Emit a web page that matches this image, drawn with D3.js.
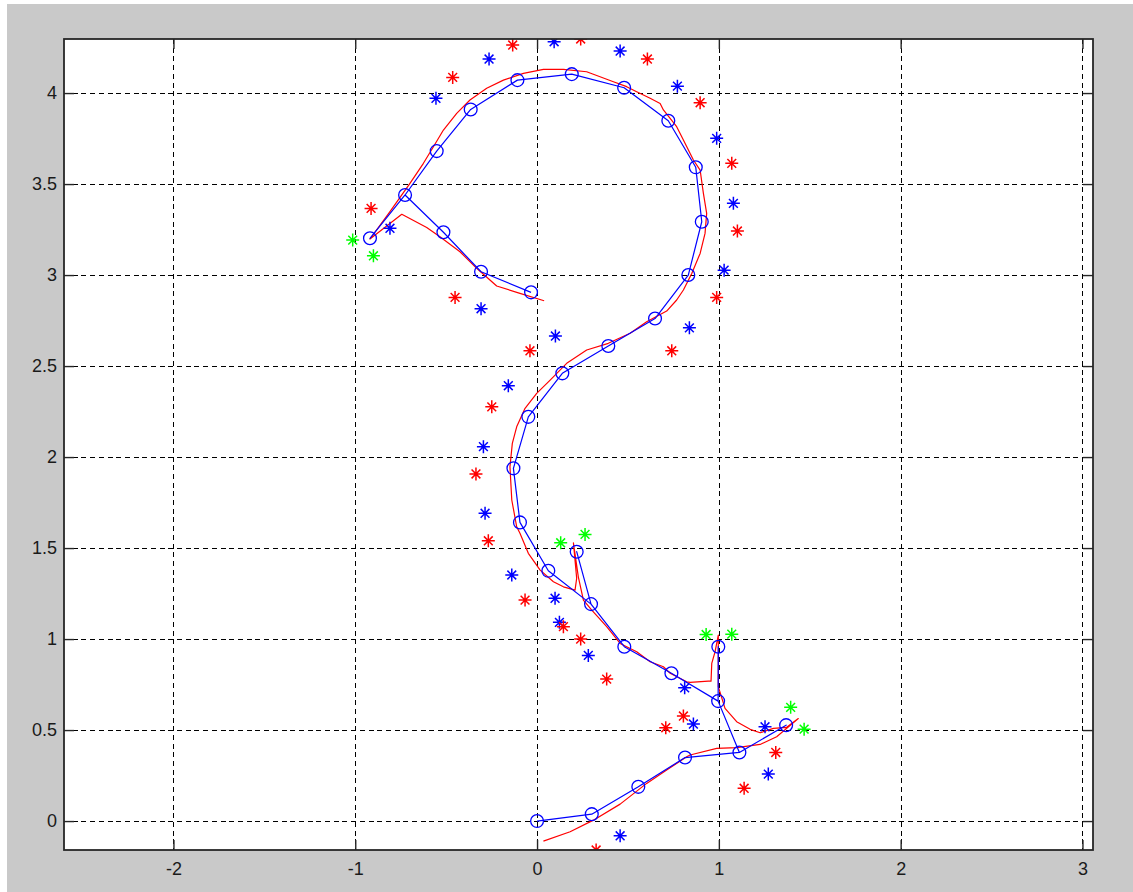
<!DOCTYPE html>
<html lang="en">
<head>
  <meta charset="UTF-8">
  <title>Trajectory estimate vs odometry</title>
  <script src="https://d3js.org/d3.v7.min.js"></script>
  <style>
    body {
      margin: 0;
      background: #ffffff;
    }
    svg {
      display: block;
    }
    .tick text {
      font-family: "Liberation Sans", Arial, sans-serif;
      font-size: 18px;
      fill: #1a1a1a;
    }
    .tick line {
      stroke: #262626;
    }
  </style>
</head>
<body>
  <svg id="chart" width="1133" height="892"></svg>
  <script>
    // Axis limits and tick values
    const xLim = [-2.602, 3.058];
    const yLim = [-0.159, 4.297];
    const xTicks = [-2, -1, 0, 1, 2, 3];
    const yTicks = [0, 0.5, 1, 1.5, 2, 2.5, 3, 3.5, 4];

    // Estimated poses (blue, circles); spikes go out to a pose and come back
    const estX = [0, 0.301, 0.557, 0.814, 1.113, 1.370, 1.113, 0.996, 0.997, 0.996,
      0.739, 0.480, 0.297, 0.218, 0.297, 0.062, -0.094, -0.130, -0.048, 0.139,
      0.392, 0.649, 0.832, 0.906, 0.873, 0.722, 0.479, 0.191, -0.108, -0.365,
      -0.552, -0.726, -0.919, -0.726, -0.515, -0.308, -0.033];
    const estY = [0, 0.038, 0.188, 0.349, 0.377, 0.527, 0.377, 0.659, 0.958, 0.659,
      0.812, 0.958, 1.192, 1.480, 1.192, 1.375, 1.641, 1.938, 2.221, 2.460,
      2.610, 2.761, 3.000, 3.293, 3.592, 3.848, 4.029, 4.104, 4.071, 3.910,
      3.681, 3.440, 3.202, 3.440, 3.235, 3.018, 2.905];

    // Odometry path (red)
    const odoX = [0.035, 0.182, 0.310, 0.457, 0.603, 0.713, 0.823, 0.842, 0.988, 1.098,
      1.227, 1.318, 1.437, 1.373, 1.300, 1.227, 1.172, 1.098, 1.034, 0.997,
      0.997, 0.979, 0.961, 0.957, 0.942, 0.842, 0.823, 0.732, 0.695, 0.622,
      0.548, 0.457, 0.383, 0.301, 0.255, 0.227, 0.200, 0.218, 0.209, 0.145,
      0.090, 0.017, -0.048, -0.094, -0.112, -0.139, -0.149, -0.136, -0.112, -0.066,
      -0.002, 0.072, 0.163, 0.273, 0.392, 0.512, 0.603, 0.713, 0.768, 0.805,
      0.851, 0.897, 0.924, 0.933, 0.915, 0.897, 0.860, 0.805, 0.768, 0.695,
      0.677, 0.622, 0.548, 0.493, 0.420, 0.273, 0.145, 0.035, -0.075, -0.185,
      -0.277, -0.369, -0.442, -0.515, -0.570, -0.625, -0.699, -0.809, -0.919, -0.744,
      -0.607, -0.534, -0.424, -0.332, -0.222, -0.094, 0.039];
    const odoY = [-0.110, -0.059, 0.005, 0.093, 0.207, 0.280, 0.353, 0.363, 0.399, 0.403,
      0.421, 0.463, 0.563, 0.515, 0.509, 0.485, 0.504, 0.546, 0.619, 0.738,
      1.022, 0.930, 0.866, 0.769, 0.769, 0.762, 0.765, 0.812, 0.848, 0.875,
      0.930, 0.976, 1.068, 1.159, 1.214, 1.342, 1.529, 1.334, 1.269, 1.287,
      1.315, 1.379, 1.471, 1.581, 1.617, 1.764, 1.947, 2.075, 2.166, 2.268,
      2.350, 2.423, 2.515, 2.588, 2.625, 2.680, 2.743, 2.802, 2.863, 2.918,
      3.009, 3.119, 3.229, 3.339, 3.449, 3.577, 3.632, 3.742, 3.815, 3.907,
      3.943, 3.971, 4.007, 4.035, 4.062, 4.117, 4.130, 4.130, 4.108, 4.071,
      4.026, 3.962, 3.888, 3.797, 3.705, 3.614, 3.504, 3.348, 3.198, 3.334,
      3.261, 3.210, 3.128, 3.037, 2.940, 2.899, 2.859];

    // Landmarks
    const blueStarX = [0.094, -0.264, 0.457, -0.556, 0.772, 0.988, 1.080, 1.029, 0.838, 0.101,
      -0.809, -0.308, -0.158, -0.295, -0.286, -0.139, 0.099, 0.123, 0.282, 0.812,
      0.860, 1.254, 1.272, 0.457];
    const blueStarY = [4.282, 4.187, 4.231, 3.971, 4.038, 3.751, 3.394, 3.027, 2.710, 2.665,
      3.257, 2.815, 2.392, 2.057, 1.691, 1.352, 1.224, 1.092, 0.910, 0.732,
      0.533, 0.518, 0.258, -0.081];
    const redStarX = [-0.134, 0.240, -0.464, 0.607, 0.897, 1.071, 1.102, 0.988, 0.741, -0.039,
      -0.913, -0.451, -0.249, -0.336, -0.268, -0.066, 0.145, 0.240, 0.383, 0.708,
      0.805, 1.313, 1.139, 0.325];
    const redStarY = [4.264, 4.297, 4.086, 4.187, 3.947, 3.614, 3.242, 2.877, 2.584, 2.584,
      3.366, 2.877, 2.276, 1.907, 1.540, 1.214, 1.068, 1.000, 0.780, 0.513,
      0.577, 0.377, 0.180, -0.159];
    const greenStarX = [-1.014, -0.900, 0.130, 0.264, 0.930, 1.071, 1.395, 1.469];
    const greenStarY = [3.192, 3.106, 1.529, 1.575, 1.025, 1.027, 0.625, 0.505];

    // Canvas and axes box
    const svg = d3.select("#chart"),
          margin = {top: 39, right: 40, bottom: 42, left: 64},
          width = +svg.attr("width") - margin.left - margin.right,
          height = +svg.attr("height") - margin.top - margin.bottom;

    // figure background (thin white edge on top/left like the screenshot)
    svg.append("rect")
      .attr("x", 7).attr("y", 4)
      .attr("width", 1133 - 7).attr("height", 892 - 4)
      .attr("fill", "#c9c9c9");

    const g = svg.append("g").attr("transform", `translate(${margin.left},${margin.top})`);

    g.append("rect")
      .attr("width", width).attr("height", height)
      .attr("fill", "#ffffff");

    const x = d3.scaleLinear().domain(xLim).range([0, width]);
    const y = d3.scaleLinear().domain(yLim).range([height, 0]);

    // Dashed grid
    const grid = g.append("g")
      .attr("stroke", "#000")
      .attr("stroke-width", 1.2)
      .attr("stroke-dasharray", "5,3.7")
      .attr("shape-rendering", "crispEdges");
    grid.selectAll(".gx").data(xTicks).join("line")
      .attr("x1", d => Math.round(x(d)) + 0.5).attr("x2", d => Math.round(x(d)) + 0.5)
      .attr("y1", 0).attr("y2", height);
    grid.selectAll(".gy").data(yTicks).join("line")
      .attr("y1", d => Math.round(y(d)) + 0.5).attr("y2", d => Math.round(y(d)) + 0.5)
      .attr("x1", 0).attr("x2", width);

    // Inward ticks on all four sides, labels only bottom/left
    const fmt = d => String(d);
    g.append("g").attr("transform", `translate(0,${height})`)
      .call(d3.axisBottom(x).tickValues(xTicks).tickSize(-10).tickPadding(12).tickFormat(fmt));
    g.append("g")
      .call(d3.axisLeft(y).tickValues(yTicks).tickSize(-10).tickPadding(7).tickFormat(fmt));
    g.append("g")
      .call(d3.axisTop(x).tickValues(xTicks).tickSize(-10).tickFormat(""));
    g.append("g").attr("transform", `translate(${width},0)`)
      .call(d3.axisRight(y).tickValues(yTicks).tickSize(-10).tickFormat(""));
    g.selectAll(".domain").remove();
    g.selectAll(".tick line").attr("stroke-width", 1.4);

    // Data layer clipped to the axes
    svg.append("clipPath").attr("id", "clip")
      .append("rect").attr("width", width).attr("height", height);
    const plot = g.append("g").attr("clip-path", "url(#clip)");

    const line = d3.line().x(d => x(d[0])).y(d => y(d[1]));

    const est = d3.zip(estX, estY);
    const odo = d3.zip(odoX, odoY);

    plot.append("path").datum(odo)
      .attr("d", line)
      .attr("fill", "none")
      .attr("stroke", "#ff0000")
      .attr("stroke-width", 1.2)
      .attr("stroke-linejoin", "round");

    plot.append("path").datum(est)
      .attr("d", line)
      .attr("fill", "none")
      .attr("stroke", "#0000ff")
      .attr("stroke-width", 1.2)
      .attr("stroke-linejoin", "round");

    // one circle per distinct pose
    const poses = Array.from(new Map(est.map(p => [p.join(","), p])).values());
    plot.selectAll(".pose").data(poses).join("circle")
      .attr("class", "pose")
      .attr("cx", d => x(d[0]))
      .attr("cy", d => y(d[1]))
      .attr("r", 6.4)
      .attr("fill", "none")
      .attr("stroke", "#0000ff")
      .attr("stroke-width", 1.3);

    // MATLAB style '*' marker: plus and cross
    function star(cx, cy) {
      const a = 6.5, b = 4.4;
      return `M${cx - a},${cy}H${cx + a}M${cx},${cy - a}V${cy + a}` +
             `M${cx - b},${cy - b}L${cx + b},${cy + b}M${cx - b},${cy + b}L${cx + b},${cy - b}`;
    }
    function drawStars(xs, ys, color) {
      plot.append("g").selectAll("path").data(d3.zip(xs, ys)).join("path")
        .attr("d", d => star(x(d[0]), y(d[1])))
        .attr("fill", "none")
        .attr("stroke", color)
        .attr("stroke-width", 1.5);
    }
    drawStars(blueStarX, blueStarY, "#0000ff");
    drawStars(redStarX, redStarY, "#ff0000");
    drawStars(greenStarX, greenStarY, "#00ff00");

    // Axes box
    g.append("rect")
      .attr("width", width).attr("height", height)
      .attr("fill", "none")
      .attr("stroke", "#262626")
      .attr("stroke-width", 1.8);
  </script>
</body>
</html>
